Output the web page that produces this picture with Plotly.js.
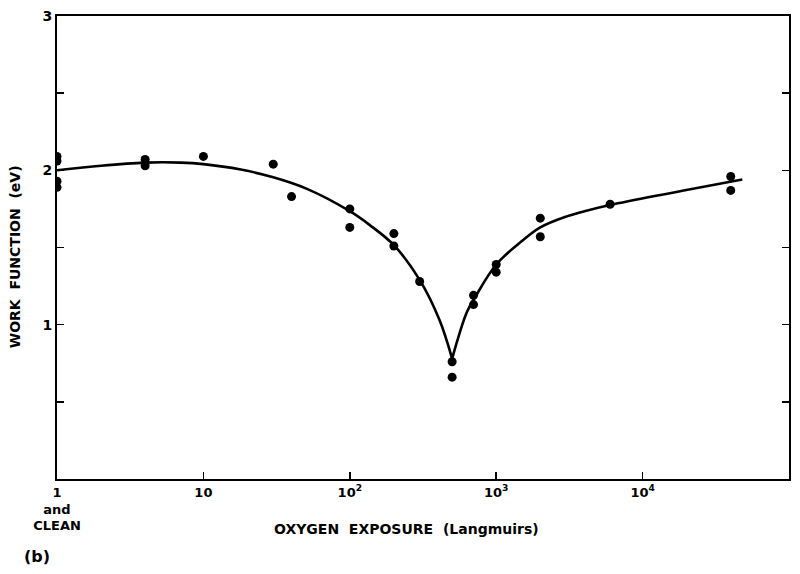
<!DOCTYPE html>
<html>
<head>
<meta charset="utf-8">
<script src="https://cdn.plot.ly/plotly-3.0.1.min.js"></script>
<style>html,body{margin:0;padding:0;background:#fff;}#chart{width:800px;height:574px;}</style>
</head>
<body>
<div id="chart"></div>
<script>
// Measured data points (oxygen exposure in Langmuirs, work function in eV)
const pointExposure = [1, 1, 1, 1, 4, 4, 10, 30, 40, 100, 100, 200, 200, 300, 500, 500, 700, 700, 1000, 1000, 2000, 2000, 6000, 40000, 40000];
const pointWork     = [2.09, 2.06, 1.93, 1.89, 2.07, 2.03, 2.09, 2.04, 1.83, 1.75, 1.63, 1.59, 1.51, 1.28, 0.76, 0.66, 1.19, 1.13, 1.39, 1.34, 1.69, 1.57, 1.78, 1.96, 1.87];

// Hand-drawn fit curve, left branch (falling to the minimum)
const curveLeftX = [1, 2, 4, 7, 10, 18, 30, 51, 100, 137, 200, 300, 410, 500];
const curveLeftY = [2.00, 2.03, 2.05, 2.05, 2.04, 2.005, 1.955, 1.88, 1.735, 1.645, 1.515, 1.29, 1.03, 0.78];
// Right branch (rising from the minimum)
const curveRightX = [500, 630, 720, 1000, 1450, 2000, 3000, 4200, 6000, 48000];
const curveRightY = [0.78, 1.08, 1.18, 1.39, 1.53, 1.63, 1.70, 1.74, 1.775, 1.94];

// Axis tick labels
const xTickVals = [1, 10, 100, 1000, 10000, 100000];
const xTickText = ['1<br>and<br>CLEAN', '10', '10<sup>2</sup>', '10<sup>3</sup>', '10<sup>4</sup>', '10<sup>5</sup>'];
const yTickVals = [1, 2, 3];
const yTickText = ['1', '2', '3'];
const yRightTicks = [0.5, 1, 1.5, 2, 2.5];

const FONT = 'DejaVu Sans, Liberation Sans, sans-serif';

const traces = [
  {x: curveLeftX, y: curveLeftY, mode: 'lines', line: {color: '#000', width: 2.6, shape: 'spline', smoothing: 1}, hoverinfo: 'skip'},
  {x: curveRightX, y: curveRightY, mode: 'lines', line: {color: '#000', width: 2.6, shape: 'spline', smoothing: 1}, hoverinfo: 'skip'},
  {x: pointExposure, y: pointWork, mode: 'markers', marker: {color: '#000', size: 9}},
  {x: [1], y: [0], yaxis: 'y2', mode: 'markers', marker: {opacity: 0}, hoverinfo: 'skip'}
];

const layout = {
  width: 800, height: 574,
  margin: {l: 57, r: 11, t: 16, b: 95},
  paper_bgcolor: '#fff', plot_bgcolor: '#fff',
  showlegend: false,
  font: {family: FONT, color: '#000', size: 13},
  xaxis: {
    type: 'log', range: [0, 5],
    tickvals: xTickVals, ticktext: xTickText,
    ticks: 'inside', ticklen: 7, tickwidth: 1.5, tickcolor: '#000',
    showline: true, linecolor: '#000', linewidth: 2, mirror: true,
    showgrid: false, zeroline: false,
    tickfont: {family: FONT, size: 13, color: '#000', weight: 'bold'}
  },
  yaxis: {
    range: [0, 3],
    tickvals: yTickVals, ticktext: yTickText,
    ticks: 'inside', ticklen: 7, tickwidth: 1.5, tickcolor: '#000',
    minor: {dtick: 0.5, ticks: 'inside', ticklen: 7, tickwidth: 1.5, tickcolor: '#000', showgrid: false},
    showline: true, linecolor: '#000', linewidth: 2, mirror: true,
    showgrid: false, zeroline: false,
    tickfont: {family: FONT, size: 14, color: '#000', weight: 'bold'}
  },
  yaxis2: {
    range: [0, 3], overlaying: 'y', side: 'right',
    tickvals: yRightTicks, showticklabels: false,
    ticks: 'inside', ticklen: 7, tickwidth: 1.5, tickcolor: '#000',
    showline: false, showgrid: false, zeroline: false
  },
  annotations: [
    {text: 'OXYGEN  EXPOSURE  (Langmuirs)', xref: 'paper', yref: 'paper', x: 0.478, y: -0.108, xanchor: 'center', yanchor: 'middle', showarrow: false, font: {family: FONT, size: 14, color: '#000', weight: 'bold'}},
    {text: 'WORK  FUNCTION  (eV)', xref: 'paper', yref: 'paper', x: -0.058, y: 0.48, xanchor: 'center', yanchor: 'middle', textangle: -90, showarrow: false, font: {family: FONT, size: 14, color: '#000', weight: 'bold'}},
    {text: '(b)', xref: 'paper', yref: 'paper', x: -0.027, y: -0.168, xanchor: 'center', yanchor: 'middle', showarrow: false, font: {family: FONT, size: 16, color: '#000', weight: 'bold'}}
  ]
};

Plotly.newPlot('chart', traces, layout, {displayModeBar: false, staticPlot: true});
</script>
</body>
</html>
